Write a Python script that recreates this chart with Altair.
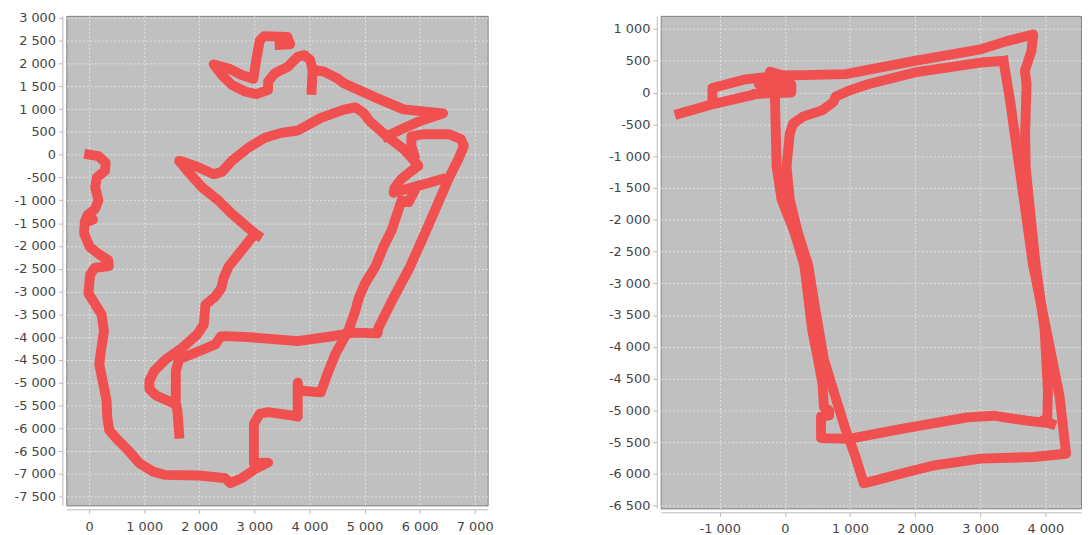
import altair as alt
import pandas as pd

# ---------------- Left panel tracks (x, y) ----------------
left_outer = [(0, 0), (170, -30), (300, -175), (290, -350), (140, -500), (110, -715), (170, -1000),
              (110, -1185), (-30, -1330), (-80, -1480), (-90, -1730), (10, -2020), (200, -2200),
              (345, -2310), (360, -2440), (100, -2480), (18, -2637), (-12, -3037), (78, -3217),
              (228, -3506), (269, -3870), (215, -4304), (185, -4593), (257, -5028), (317, -5390),
              (329, -5752), (365, -6042), (497, -6223), (706, -6477), (915, -6766), (1155, -6947),
              (1364, -7019), (1992, -7034), (2471, -7092), (2561, -7200), (2770, -7092), (3039, -6874),
              (3249, -6751), (2992, -6766), (2992, -5897), (3099, -5680), (3249, -5643), (3668, -5716),
              (3787, -5743), (3787, -5000), (3800, -5170), (4206, -5210), (4326, -4805), (4470, -4372),
              (4715, -3830), (4830, -3433), (4895, -3144), (5010, -2820), (5200, -2450), (5350, -2000),
              (5493, -1659), (5612, -1224), (5672, -1007), (5800, -1040), (5950, -690), (6390, -540)]
left_bump = [(-20, -1380), (70, -1420), (-20, -1470)]
left_ridge = [(3057, -1767), (3010, -1731), (2590, -1297), (2351, -1007), (2052, -717), (1783, -355),
              (1634, -137), (1700, -150), (2023, -297), (2262, -427), (2411, -377), (2590, -137),
              (2890, 152), (3190, 369), (3488, 478), (3788, 530), (4206, 805), (4625, 986), (4834, 1037),
              (4984, 913), (5098, 730), (5403, 406), (5708, 124), (5905, -137), (5977, -246), (5851, -355),
              (5672, -529), (5546, -724), (5528, -833), (5950, -690)]
left_loop = [(3010, -1731), (2770, -2094), (2531, -2456), (2441, -2710), (2400, -2927), (2292, -3108),
             (2112, -3289), (2082, -3724), (1962, -3941), (1693, -4231), (1394, -4485), (1185, -4738),
             (1095, -4956), (1095, -5137), (1215, -5281), (1424, -5390), (1580, -5480), (1603, -5608),
             (1634, -6115)]
left_east = [(1574, -5318), (1574, -4738), (1634, -4485), (1933, -4340), (2292, -4158), (2390, -3985),
             (2471, -3978), (2890, -4000), (3788, -4087), (4446, -3975), (4805, -3902), (5235, -3917),
             (5253, -3794), (5523, -3144), (5821, -2470), (6121, -1659), (6354, -1007), (6534, -507),
             (6713, -72), (6803, 189), (6749, 341), (6534, 448), (6067, 448), (5850, 400), (5850, 200),
             (5900, 0)]
left_north = [(5403, 406), (5708, 579), (5995, 730), (6426, 906), (5708, 993), (5223, 1240), (4625, 1565),
              (4505, 1674), (4266, 1820), (4057, 1857), (4015, 2074), (3907, 2183), (3788, 2146),
              (3608, 1928), (3369, 1783), (3249, 1603), (3249, 1422), (3039, 1327), (2831, 1385),
              (2590, 1530), (2411, 1748), (2262, 1979), (2531, 1891), (2770, 1748), (2980, 1661),
              (3039, 2109), (3100, 2509), (3180, 2600), (3600, 2580), (3650, 2420), (3460, 2410)]
left_spur = [(4057, 1857), (4040, 1420)]

# ---------------- Right panel tracks (x, y) ----------------
right_wedge_low = [(-1616, -330), (-1085, -177), (-429, -21), (-176, 31)]
right_wedge_up = [(-1111, -130), (-1111, 73), (-631, 203), (-328, 239), (-150, 260)]
right_knot = [(-430, -20), (100, 0), (100, 130), (-400, 130), (-300, 230), (60, 240), (-227, 330), (-150, 200)]
right_top = [(-200, 270), (300, 275), (935, 290), (1995, 499), (3005, 680), (3409, 810), (3813, 913),
             (3787, 655), (3686, 343), (3712, 135), (3690, -650), (3700, -1200), (3850, -2700),
             (3990, -3734), (4040, -4700), (4030, -5150), (3960, -5160), (4090, -5210)]
right_inner = [(-150, 250), (-151, -125), (-126, -1163), (-50, -1683), (150, -2203), (300, -2722),
               (420, -3734), (520, -4254), (580, -4600), (600, -4950), (680, -5000), (680, -5080),
               (556, -5100), (556, -5437), (985, -5448), (1793, -5292), (2803, -5110), (3207, -5084),
               (3712, -5162), (4030, -5200)]
right_outer = [(3358, 499), (3005, 473), (1995, 317), (1288, 135), (985, 31), (783, -60), (745, -150),
               (581, -275), (278, -379), (127, -488), (76, -644), (26, -1163), (76, -1683), (200, -2203),
               (360, -2722), (450, -3300), (600, -4200), (780, -4800), (930, -5292), (1086, -5734),
               (1212, -6149), (1793, -5994), (2298, -5864), (3005, -5760), (3813, -5734), (4319, -5682),
               (4218, -4773), (4015, -3734), (3813, -2722), (3600, -1163), (3459, -125), (3358, 499)]

left_tracks = [left_outer, left_bump, left_ridge, left_loop, left_east, left_north, left_spur]
right_tracks = [right_wedge_low, right_wedge_up, right_knot, right_top, right_inner, right_outer]

left_x_ticks = [0, 1000, 2000, 3000, 4000, 5000, 6000, 7000]
left_y_ticks = list(range(-7500, 3001, 500))
right_x_ticks = [-1000, 0, 1000, 2000, 3000, 4000]
right_y_ticks = list(range(-6500, 1001, 500))


def to_frame(tracks):
    rows = []
    for sid, pts in enumerate(tracks):
        for i, (x, y) in enumerate(pts):
            rows.append({"seg": sid, "i": i, "x": x, "y": y})
    return pd.DataFrame(rows)


LABEL = "replace(replace(format(datum.value, ','), ',', ' '), '\u2212', '-')"


def axis(values, pad):
    return alt.Axis(values=values, labelExpr=LABEL, grid=True, gridColor="#e2e2e2",
                    gridDash=[2, 2], gridWidth=1, domainColor="#b8b8b8", tickColor="#b8b8b8",
                    tickSize=4, labelColor="#444444", labelFont="DejaVu Sans", labelFontSize=13,
                    labelPadding=pad, offset=4, title=None)


def panel(tracks, xdom, ydom, xt, yt, w, h, xpad):
    return alt.Chart(to_frame(tracks)).mark_line(
        color="#f05050", strokeWidth=10, strokeCap="square", strokeJoin="round", clip=True
    ).encode(
        x=alt.X("x:Q", scale=alt.Scale(domain=xdom, nice=False, zero=False), axis=axis(xt, xpad)),
        y=alt.Y("y:Q", scale=alt.Scale(domain=ydom, nice=False, zero=False), axis=axis(yt, 3)),
        detail="seg:N",
        order="i:Q",
    ).properties(width=w, height=h)


left = panel(left_tracks, [-413, 7235], [-7689, 3043], left_x_ticks, left_y_ticks, 426, 495, 7)
right = panel(right_tracks, [-1906, 4548], [-6542, 1207], right_x_ticks, right_y_ticks, 425, 498, 6)

chart = alt.hconcat(left, right, spacing=114).properties(
    padding={"left": 5, "top": 0, "right": 0, "bottom": 0}
).configure_view(fill="#c0c0c0", stroke="#808080", strokeWidth=1)

chart.save("out.html", embed_options={"renderer": "svg", "actions": False})
